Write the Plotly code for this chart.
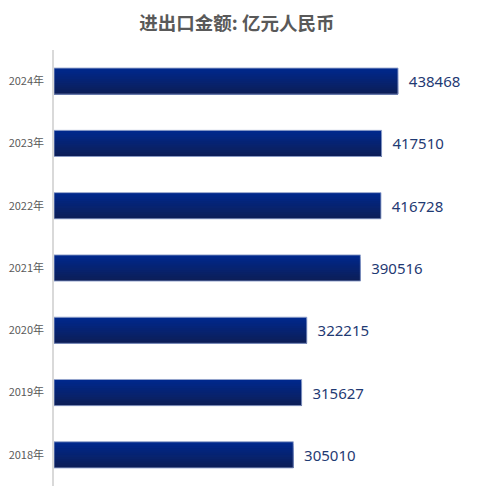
import plotly.graph_objects as go

years = ["2018年", "2019年", "2020年", "2021年", "2022年", "2023年", "2024年"]
values = [305010, 315627, 322215, 390516, 416728, 417510, 438468]
title_text = "进出口金额: 亿元人民币"

BAR_W = 0.42
N_STRIPES = 12
top_rgb = (0, 40, 140)
bot_rgb = (12, 30, 88)

fig = go.Figure()
stripe_w = BAR_W / N_STRIPES
for i in range(N_STRIPES):
    t = i / (N_STRIPES - 1)
    r = round(top_rgb[0] + (bot_rgb[0] - top_rgb[0]) * t)
    g = round(top_rgb[1] + (bot_rgb[1] - top_rgb[1]) * t)
    b = round(top_rgb[2] + (bot_rgb[2] - top_rgb[2]) * t)
    # each layer spans from its top edge down to the bar's bottom edge
    h = BAR_W - i * stripe_w
    fig.add_trace(go.Bar(
        x=values, y=years, orientation="h",
        width=h, offset=-BAR_W / 2,
        marker=dict(color=f"rgb({r},{g},{b})", line=dict(width=0)),
        hoverinfo="skip",
    ))

# outline + value labels
fig.add_trace(go.Bar(
    x=values, y=years, orientation="h",
    width=BAR_W, offset=-BAR_W / 2,
    marker=dict(color="rgba(0,0,0,0)", line=dict(color="rgba(150,165,205,0.9)", width=1)),
    text=[f"{v}" for v in values],
    textposition="outside",
    texttemplate="  %{text}",
    textfont=dict(family="Noto Sans, Liberation Sans, sans-serif", size=15, color="#1f3a73"),
    cliponaxis=False,
    hoverinfo="skip",
))

fig.update_layout(
    width=474,
    height=478,
    barmode="overlay",
    margin=dict(l=46, r=0, t=42, b=0),
    paper_bgcolor="white",
    plot_bgcolor="white",
    showlegend=False,
    title=dict(
        text="<b>" + title_text + "</b>",
        x=0.483,
        xanchor="center",
        y=0.967,
        yanchor="middle",
        font=dict(family="Noto Sans CJK SC, sans-serif", size=18.5, color="#595959"),
    ),
    xaxis=dict(
        range=[0, 545500],
        showgrid=False,
        zeroline=False,
        showticklabels=False,
        showline=False,
        fixedrange=True,
    ),
    yaxis=dict(
        categoryorder="array",
        categoryarray=years,
        showgrid=False,
        zeroline=False,
        showline=True,
        linecolor="#d9d9d9",
        linewidth=1.5,
        ticks="",
        ticklabelstandoff=6,
        tickfont=dict(family="Noto Sans CJK SC, sans-serif", size=11, color="#595959"),
        fixedrange=True,
    ),
)

fig.write_html("out.html")
